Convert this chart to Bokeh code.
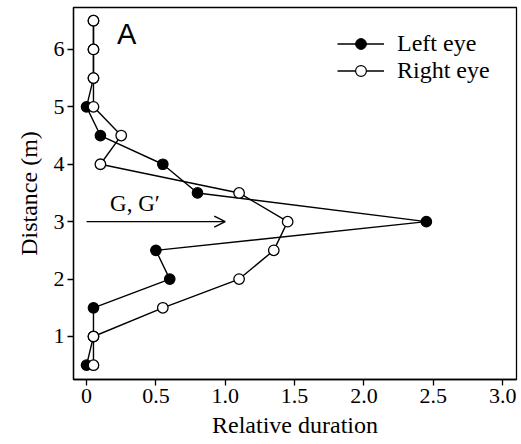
from bokeh.plotting import figure
from bokeh.models import FixedTicker, Range1d, Legend, LegendItem, Arrow, OpenHead, Label
from bokeh.embed import file_html
from bokeh.resources import INLINE

distance = [0.5, 1.0, 1.5, 2.0, 2.5, 3.0, 3.5, 4.0, 4.5, 5.0, 5.5, 6.0, 6.5]
left_eye = [0.0, 0.05, 0.05, 0.6, 0.5, 2.45, 0.8, 0.55, 0.1, 0.0, 0.05, 0.05, 0.05]
right_eye = [0.05, 0.05, 0.55, 1.1, 1.35, 1.45, 1.1, 0.1, 0.25, 0.05, 0.05, 0.05, 0.05]
x_ticks = [0, 0.5, 1.0, 1.5, 2.0, 2.5, 3.0]
x_tick_labels = ["0", "0.5", "1.0", "1.5", "2.0", "2.5", "3.0"]
y_ticks = [1, 2, 3, 4, 5, 6]

SERIF = "Liberation Serif"

p = figure(width=519, height=440, output_backend="svg", toolbar_location=None,
           x_range=Range1d(-0.094, 3.10), y_range=Range1d(0.251, 6.73),
           min_border_left=73, min_border_right=3, min_border_top=7, min_border_bottom=61)
p.xgrid.visible = False
p.ygrid.visible = False
p.outline_line_color = "black"
p.outline_line_width = 1.3
p.background_fill_color = "white"

for ax in (p.xaxis, p.yaxis):
    ax.major_label_text_font = SERIF
    ax.major_label_text_font_size = "22px"
    ax.major_label_text_color = "black"
    ax.axis_label_text_font = SERIF
    ax.axis_label_text_font_size = "24px"
    ax.axis_label_text_font_style = "normal"
    ax.axis_label_text_color = "black"
    ax.axis_line_width = 1.3
    ax.major_tick_line_width = 1.3
    ax.major_tick_out = 6
    ax.major_tick_in = 0
    ax.minor_tick_line_color = None
    ax.major_label_standoff = 3

p.xaxis.ticker = FixedTicker(ticks=x_ticks)
p.xaxis.major_label_overrides = {t: l for t, l in zip(x_ticks, x_tick_labels)}
p.yaxis.ticker = FixedTicker(ticks=y_ticks)
p.xaxis.axis_label = "Relative duration"
p.yaxis.axis_label = "Distance (m)"
p.xaxis.axis_label_standoff = 6
p.yaxis.axis_label_standoff = 9

lw = 1.4
l1 = p.line(left_eye, distance, line_color="black", line_width=lw)
c1 = p.scatter(left_eye, distance, marker="circle", size=10.5, fill_color="black", line_color="black", line_width=1.2)
l2 = p.line(right_eye, distance, line_color="black", line_width=lw)
c2 = p.scatter(right_eye, distance, marker="circle", size=10.5, fill_color="white", line_color="black", line_width=1.3)

lg1 = p.scatter([None], [None], marker="circle", size=9, fill_color="black", line_color="black")
lg2 = p.scatter([None], [None], marker="circle", size=9, fill_color="white", line_color="black", line_width=1.2)

legend = Legend(items=[LegendItem(label="Left eye", renderers=[l1, lg1]),
                       LegendItem(label="Right eye", renderers=[l2, lg2])],
                location=(264, 295))
legend.label_text_font = SERIF
legend.label_text_font_size = "24px"
legend.label_text_color = "black"
legend.border_line_color = None
legend.background_fill_alpha = 0
legend.padding = 0
legend.spacing = 0
legend.glyph_width = 47
legend.glyph_height = 27
legend.label_height = 27
legend.label_standoff = 13
p.add_layout(legend)

p.add_layout(Arrow(end=OpenHead(size=11, line_width=1.3, line_color="black"),
                   x_start=0.0, y_start=3.0, x_end=1.0, y_end=3.0,
                   line_color="black", line_width=1.3))

p.add_layout(Label(x=0.17, y=3.31, text="G, G\u2032", text_font=SERIF,
                   text_font_size="23px", text_color="black", text_baseline="alphabetic"))
p.add_layout(Label(x=0.22, y=6.26, text="A", text_font="Liberation Sans",
                   text_font_size="29px", text_color="black", text_baseline="alphabetic"))

open("out.html", "w").write(file_html(p, INLINE))
